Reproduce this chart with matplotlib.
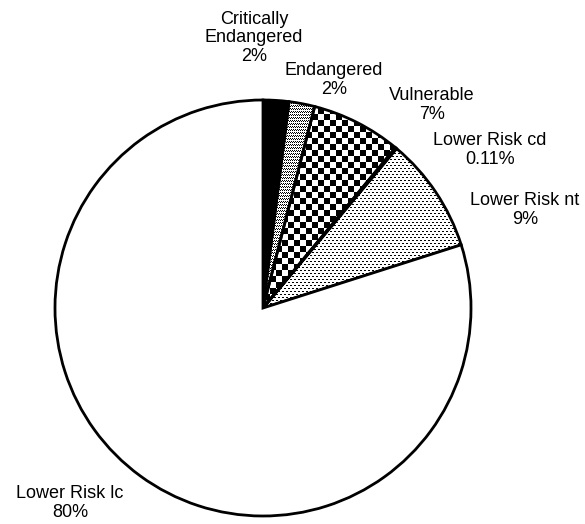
import numpy as np
import matplotlib
matplotlib.use("Agg")
import matplotlib.pyplot as plt

plt.rcParams['font.family'] = ['Liberation Sans', 'DejaVu Sans']

# data (share of species by category, %)
categories = ['Critically\nEndangered', 'Endangered', 'Vulnerable',
              'Lower Risk cd', 'Lower Risk nt', 'Lower Risk lc']
shares = [2, 2, 7, 0.11, 9, 80]
share_labels = ['2%', '2%', '7%', '0.11%', '9%', '80%']

# canvas in pixels, pie centre / radius in pixels
W, H = 585, 524
cx, cy, R = 263, 308, 208

fig = plt.figure(figsize=(W / 100, H / 100), dpi=100)
fig.patch.set_facecolor('white')
ax = fig.add_axes([0, 0, 1, 1])

fills = ['black', 'none', 'none', 'black', 'none', 'white']
wedges, _ = ax.pie(shares, startangle=90, counterclock=False, colors=fills,
                   radius=1, center=(0, 0),
                   wedgeprops=dict(edgecolor='black', linewidth=2.0))
for w in wedges:
    w.set_zorder(3)

x0, x1 = -cx / R, (W - cx) / R
y0, y1 = -(H - cy) / R, cy / R
ax.set_xlim(x0, x1)
ax.set_ylim(y0, y1)
ax.set_aspect('auto')
ax.axis('off')

# screen-like textures, one pixel per figure pixel
yy, xx = np.mgrid[0:H, 0:W]
checker = ((xx // 6 + yy // 6) % 2).astype(float)
dense = ((xx + yy) % 2 == 0).astype(float) * ((yy % 3) != 2)
sparse = ((yy % 3 == 0) & (((xx + (yy // 3 % 2) * 2) % 4) < 2)).astype(float)

for idx, tex in [(1, dense), (2, checker), (4, sparse)]:
    im = ax.imshow(tex, cmap='gray_r', vmin=0, vmax=1, extent=(x0, x1, y0, y1),
                   interpolation='nearest', origin='upper', zorder=2)
    im.set_clip_path(wedges[idx])

# labels placed like the original (pixel positions)
label_pos = [(254, 38), (334, 80), (432, 105), (490, 150), (525, 210), (70, 503)]
for cat, lab, (px, py) in zip(categories, share_labels, label_pos):
    ax.text((px - cx) / R, (cy - py) / R, cat + '\n' + lab, ha='center',
            va='center', fontsize=13, linespacing=1.15, zorder=4)

fig.savefig('out.png', dpi=100)
